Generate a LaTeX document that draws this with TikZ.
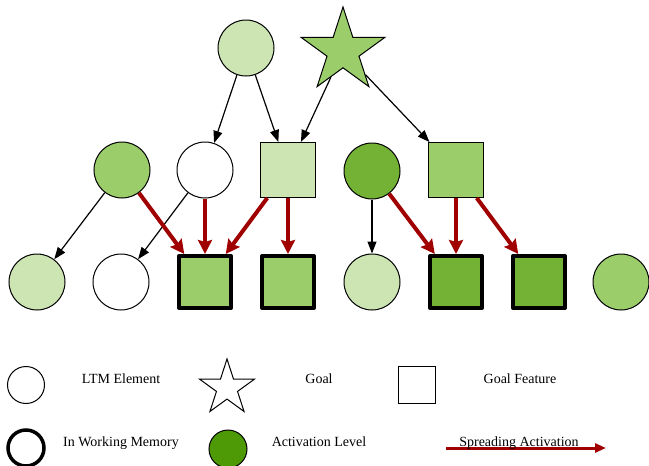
\documentclass[tikz,border=0pt]{standalone}
\usepackage{fontspec}
\setmainfont{Liberation Serif}
\usepackage{tikz}
\usetikzlibrary{shapes.geometric,arrows.meta}

\begin{document}
\begin{tikzpicture}[x=1pt,y=-1pt,
  ltm/.style={circle,draw,line width=1pt,inner sep=0pt,minimum size=56pt},
  feat/.style={rectangle,draw,line width=1pt,inner sep=0pt,minimum size=55pt},
  inwm/.style={line width=4pt,minimum size=52pt,line join=round},
  goalstar/.style={star,star points=5,star point ratio=2.618,draw,line width=1pt,inner sep=0pt,minimum size=88pt},
  link/.style={line width=1.2pt,-{Triangle[length=12pt,width=9pt]}},
  spread/.style={line width=4pt,color=spreadRed,-{Stealth[length=14pt,width=14pt,inset=2pt]}},
  spreadkey/.style={line width=3pt,color=spreadRed,-{Triangle[length=11pt,width=9pt]}},
  lbl/.style={font=\fontsize{14}{16}\selectfont,inner sep=0pt,anchor=base}]
\definecolor{lowAct}{RGB}{204,229,179}
\definecolor{midAct}{RGB}{155,205,107}
\definecolor{highAct}{RGB}{115,178,52}
\definecolor{keyAct}{RGB}{78,154,6}
\definecolor{spreadRed}{RGB}{160,0,0}
\useasboundingbox (0,0) rectangle (649,466);
\node[ltm,fill=lowAct] (ltmTop) at (246,48) {};
\node[goalstar,fill=midAct] (goal) at (343,51) {};
\node[ltm,fill=midAct] (ltmA) at (122,170) {};
\node[ltm,fill=white] (ltmB) at (205,170) {};
\node[feat,fill=lowAct] (featA) at (288,170) {};
\node[ltm,fill=highAct] (ltmC) at (372,171) {};
\node[feat,fill=midAct] (featB) at (456,170) {};
\node[ltm,fill=lowAct] (ltmD) at (37,282) {};
\node[ltm,fill=white] (ltmE) at (121,282) {};
\node[feat,inwm,fill=midAct] (featC) at (205,282) {};
\node[feat,inwm,fill=midAct] (featD) at (288,282) {};
\node[ltm,fill=lowAct] (ltmF) at (372,282) {};
\node[feat,inwm,fill=highAct] (featE) at (456,282) {};
\node[feat,inwm,fill=highAct] (featF) at (539,282) {};
\node[ltm,fill=midAct] (ltmG) at (621,282) {};
\foreach \a/\b in {ltmTop/ltmB,ltmTop/featA,goal/featA,goal/featB,ltmA/ltmD,ltmB/ltmE,ltmC/ltmF}
  \draw[link] (\a) -- (\b);
\foreach \a/\b in {ltmA/featC,ltmB/featC,featA/featC,featA/featD,ltmC/featE,featB/featE,featB/featF}
  \draw[spread] (\a) -- (\b);
\node[ltm,minimum size=37pt] (keyLtm) at (26,385) {};
\node[lbl] (keyLtmText) at (121,383) {LTM Element};
\node[goalstar,minimum size=58pt,fill=white] (keyGoal) at (227,388) {};
\node[lbl] (keyGoalText) at (319,383) {Goal};
\node[feat,minimum size=37pt] (keyFeat) at (417,385) {};
\node[lbl] (keyFeatText) at (520,383) {Goal Feature};
\node[ltm,line width=3.5pt,minimum size=36pt] (keyWm) at (26,448) {};
\node[lbl] (keyWmText) at (121,446) {In Working Memory};
\node[ltm,minimum size=38pt,fill=keyAct] (keyAct) at (228,449) {};
\node[lbl] (keyActText) at (319,446) {Activation Level};
\coordinate (spreadFrom) at (446,448);
\coordinate (spreadTo) at (606,448);
\draw[spreadkey] (spreadFrom) -- (spreadTo);
\node[lbl] (keySpreadText) at (519,446) {Spreading Activation};
\end{tikzpicture}
\end{document}
